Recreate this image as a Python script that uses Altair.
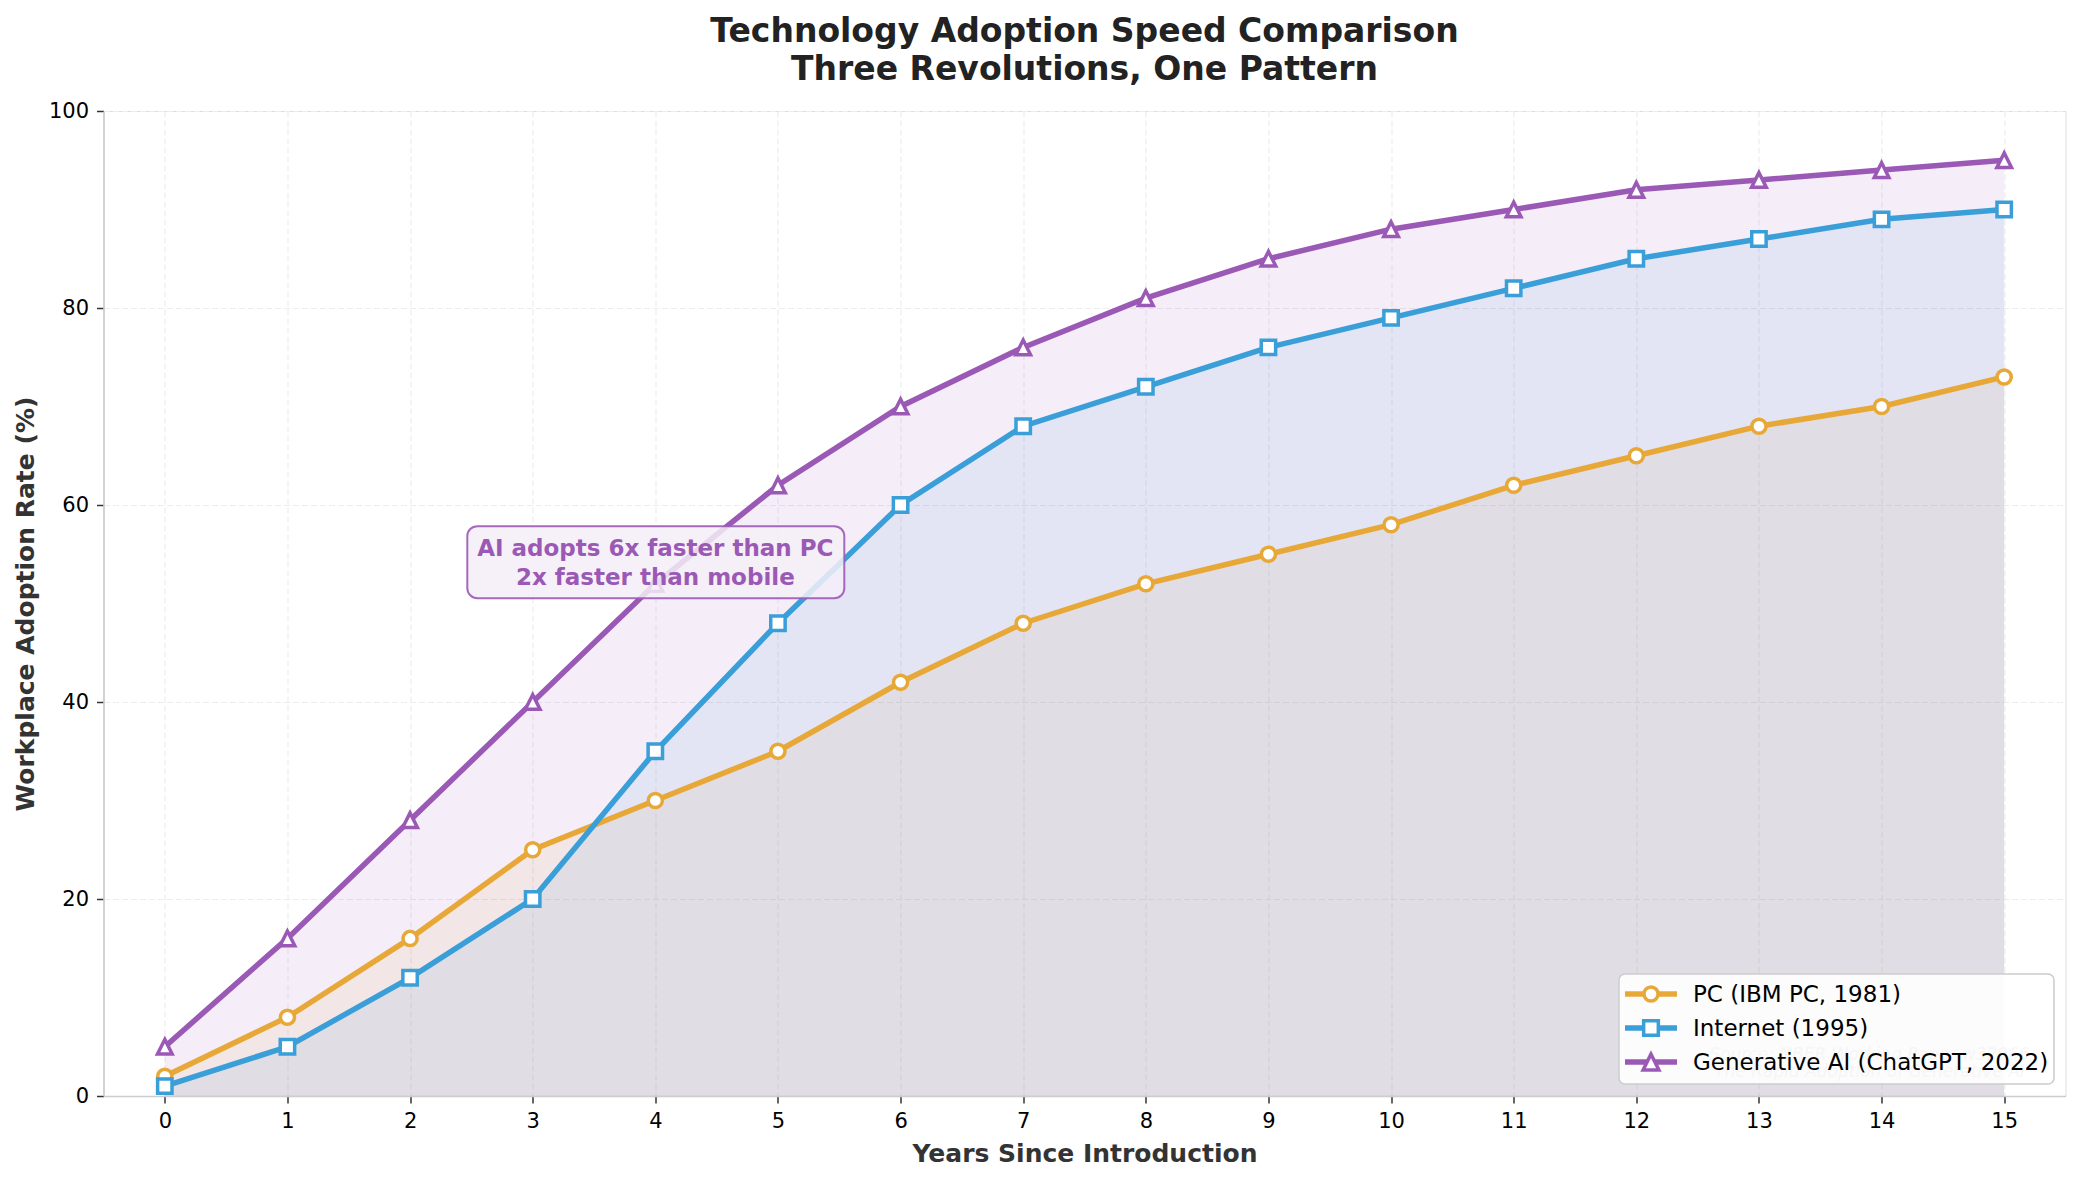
import altair as alt
import pandas as pd

# ---------------- data ----------------
years = list(range(16))
pc = [2, 8, 16, 25, 30, 35, 42, 48, 52, 55, 58, 62, 65, 68, 70, 73]
internet = [1, 5, 12, 20, 35, 48, 60, 68, 72, 76, 79, 82, 85, 87, 89, 90]
genai = [5, 16, 28, 40, 52, 62, 70, 76, 81, 85, 88, 90, 92, 93, 94, 95]
series_names = ["PC (IBM PC, 1981)", "Internet (1995)", "Generative AI (ChatGPT, 2022)"]
series_colors = ["#E8A838", "#3A9FD8", "#9B59B6"]
series_shapes = ["circle", "square", "M0,-1L-1,1L1,1Z"]
x_ticks = list(range(16))
y_ticks = [0, 20, 40, 60, 80, 100]
title_lines = ["Technology Adoption Speed Comparison", "Three Revolutions, One Pattern"]
annotation_text = "AI adopts 6x faster than PC\n2x faster than mobile"
annotation_x = [4]
annotation_y = [54.2]
source_text = 'Source: NBER Working Paper w32966\n"The Rapid Adoption of Generative AI"'

# ---------------- layout constants ----------------
W, H = 1962, 985
FONT = "DejaVu Sans"
marker_sizes = [200, 215, 250]

rows = []
for name, vals in zip(series_names, [pc, internet, genai]):
    for yr, v in zip(years, vals):
        rows.append({"year": yr, "value": v, "series": name})
df = pd.DataFrame(rows)

color_scale = alt.Scale(domain=series_names, range=series_colors)
grid_kw = dict(grid=True, gridColor="#EDEDED", gridDash=[6, 3], gridWidth=1.2)
x_enc = alt.X(
    "year:Q",
    scale=alt.Scale(domain=[-0.5, 15.5], nice=False, zero=False),
    axis=alt.Axis(
        values=x_ticks, format="d", title="Years Since Introduction",
        **grid_kw,
        domainColor="#CCCCCC", domainWidth=1.6,
        tickColor="#333333", tickSize=7, tickWidth=1.5,
        labelFont=FONT, labelFontSize=21, labelColor="#000000", labelPadding=7,
        titleFont=FONT, titleFontSize=25, titleFontWeight="bold", titleColor="#333333",
        titlePadding=10,
    ),
)
y_enc = alt.Y(
    "value:Q",
    stack=None,
    scale=alt.Scale(domain=[0, 100], nice=False),
    axis=alt.Axis(
        values=y_ticks, title="Workplace Adoption Rate (%)",
        **grid_kw,
        domainColor="#CCCCCC", domainWidth=1.6,
        tickColor="#333333", tickSize=7, tickWidth=1.5,
        labelFont=FONT, labelFontSize=21, labelColor="#000000", labelPadding=8,
        titleFont=FONT, titleFontSize=25, titleFontWeight="bold", titleColor="#333333",
        titlePadding=10,
    ),
)

base = alt.Chart(df)

areas = base.mark_area(opacity=0.1).encode(
    x=x_enc, y=y_enc,
    color=alt.Color("series:N", scale=color_scale, legend=None),
)
lines = base.mark_line(strokeWidth=5.5).encode(
    x=x_enc, y=y_enc,
    color=alt.Color("series:N", scale=color_scale, legend=None),
)
points = base.mark_point(filled=True, fill="white", opacity=1, strokeWidth=3.5).encode(
    x=x_enc, y=y_enc,
    stroke=alt.Stroke("series:N", scale=color_scale, legend=None),
    shape=alt.Shape("series:N", scale=alt.Scale(domain=series_names, range=series_shapes), legend=None),
    size=alt.Size("series:N", scale=alt.Scale(domain=series_names, range=marker_sizes), legend=None),
)

ann_df = pd.DataFrame({"x": annotation_x, "y": annotation_y, "t": [annotation_text]})
ann_box = alt.Chart(ann_df).mark_rect(
    fill="#F5EEF8", fillOpacity=0.85, stroke="#9B59B6", strokeWidth=2, strokeOpacity=0.9,
    cornerRadius=10, xOffset=-188, x2Offset=189, yOffset=-36, y2Offset=36,
).encode(x="x:Q", x2="x:Q", y="y:Q", y2="y:Q")
ann_text = alt.Chart(ann_df).mark_text(
    font=FONT, fontSize=23, fontWeight="bold", color="#9B59B6",
    align="center", baseline="middle", lineBreak="\n", lineHeight=29, dy=-13,
).encode(x="x:Q", y="y:Q", text="t:N")

src_df = pd.DataFrame({"t": [source_text]})
src = alt.Chart(src_df).mark_text(
    font=FONT, fontSize=17, fontStyle="italic", color="#888888", opacity=0.8,
    align="center", baseline="middle", lineBreak="\n", lineHeight=17,
).encode(x=alt.value(1766), y=alt.value(944), text="t:N")

# manual legend (pixel positions inside plot area)
leg_box = alt.Chart(src_df).mark_rect(
    fill="white", fillOpacity=0.9, stroke="#CCCCCC", strokeWidth=1.5, cornerRadius=6,
).encode(x=alt.value(1515.5), x2=alt.value(1950.5), y=alt.value(863), y2=alt.value(973))

leg_layers = []
leg_rows_y = [883, 917, 951]
for name, col, shp, sz, ly in zip(series_names, series_colors, series_shapes, marker_sizes, leg_rows_y):
    ldf = pd.DataFrame({"label": [name]})
    lc = alt.Chart(ldf)
    leg_layers.append(
        lc.mark_rule(color=col, strokeWidth=5.5).encode(
            x=alt.value(1521.5), x2=alt.value(1573.5), y=alt.value(ly))
    )
    leg_layers.append(
        lc.mark_point(shape=shp, size=sz, filled=True, fill="white", stroke=col,
                      strokeWidth=3.5, opacity=1).encode(x=alt.value(1547.5), y=alt.value(ly))
    )
    leg_layers.append(
        lc.mark_text(font=FONT, fontSize=23, color="#000000", align="left", baseline="middle").encode(
            x=alt.value(1589.5), y=alt.value(ly + 1), text="label:N")
    )

chart = alt.layer(
    areas, lines, points, ann_box, ann_text, src, leg_box, *leg_layers
).properties(
    width=W, height=H,
    title=alt.TitleParams(
        text=title_lines, font=FONT, fontSize=33, fontWeight="bold", color="#222222",
        anchor="middle", lineHeight=38, offset=13,
    ),
    padding={"left": 95.5, "top": 103, "right": 6.5, "bottom": 70},
    autosize=alt.AutoSizeParams(type="none"),
).configure_view(
    stroke=None, fill="#F9F9F9"
).configure(font=FONT)

chart.save("out.html", embed_options={"renderer": "svg", "actions": False})
